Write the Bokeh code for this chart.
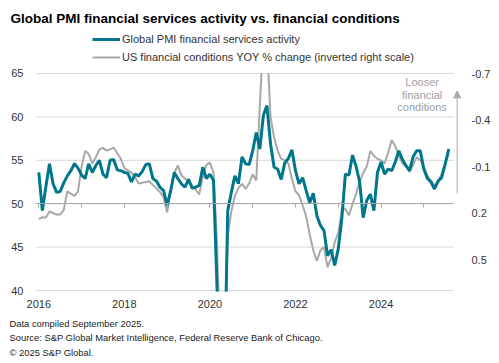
import pandas as pd
from bokeh.plotting import figure
from bokeh.models import (Range1d, LinearAxis, FixedTicker, NumeralTickFormatter,
                          CustomJSTickFormatter, Legend, LegendItem, Label, Arrow,
                          NormalHead, Title, BoxAnnotation)
from bokeh.embed import file_html
from bokeh.resources import INLINE

FONT = "Liberation Sans"

# Monthly dates Jan 2016 .. Aug 2025
months = pd.date_range("2016-01-01", "2025-08-01", freq="MS")

# Global PMI financial services activity index (left axis)
pmi_2016 = [53.6, 49.2, 52.0, 54.6, 52.3, 51.3, 51.4, 52.4, 53.2, 53.8, 54.6, 54.1]
pmi_2017 = [53.3, 52.9, 54.6, 53.6, 54.4, 55.0, 53.4, 53.0, 55.0, 55.1, 53.9, 53.8]
pmi_2018 = [53.6, 53.5, 52.5, 53.4, 53.2, 53.7, 54.5, 54.6, 52.9, 52.6, 51.9, 51.5]
pmi_2019 = [49.8, 51.5, 53.6, 52.9, 52.3, 51.9, 52.8, 51.8, 51.9, 52.1, 54.2, 52.9]
pmi_2020 = [53.4, 52.7, 40.3, 25.0, 28.0, 49.2, 51.3, 53.2, 52.3, 55.4, 54.6, 54.5]
pmi_2021 = [56.1, 58.2, 56.3, 60.2, 61.3, 56.9, 54.2, 54.0, 52.8, 54.7, 55.2, 56.2]
pmi_2022 = [53.8, 52.3, 53.0, 51.5, 50.1, 51.2, 48.6, 47.5, 46.9, 44.0, 44.7, 42.9]
pmi_2023 = [44.8, 48.3, 53.4, 53.3, 55.6, 54.3, 52.5, 48.4, 50.4, 51.1, 49.2, 53.6]
pmi_2024 = [54.8, 53.4, 54.0, 53.8, 54.8, 56.1, 55.1, 54.4, 53.8, 55.4, 56.1, 56.1]
pmi_2025 = [54.0, 52.9, 52.5, 51.7, 52.6, 53.0, 54.6, 56.3]

# US financial conditions, YOY % change (right axis, inverted)
fci_2016 = [0.24, 0.227, 0.229, 0.19, 0.20, 0.21, 0.21, 0.18, 0.06, 0.075, 0.09, 0.06]
fci_2017 = [-0.10, -0.20, -0.18, -0.12, -0.16, -0.21, -0.22, -0.203, -0.21, -0.222, -0.185, -0.15]
fci_2018 = [-0.09, -0.075, -0.06, -0.03, 0.01, 0.005, 0.0, -0.005, 0.02, 0.04, 0.065, 0.098]
fci_2019 = [0.195, 0.05, -0.06, -0.106, -0.045, -0.02, -0.01, 0.023, 0.05, 0.08, -0.03, -0.11]
fci_2020 = [-0.125, -0.06, 0.40, 1.20, 1.10, 0.35, 0.19, 0.09, 0.04, 0.012, 0.044, 0.01]
fci_2021 = [-0.05, -0.01, -0.49, -0.95, -0.90, -0.42, -0.289, -0.20, -0.15, -0.14, -0.12, -0.02]
fci_2022 = [0.06, 0.085, 0.15, 0.22, 0.34, 0.44, 0.51, 0.44, 0.42, 0.55, 0.49, 0.39]
fci_2023 = [0.33, 0.184, 0.173, 0.216, 0.141, 0.076, 0.0, -0.06, -0.10, -0.20, -0.17, -0.15]
fci_2024 = [-0.14, -0.12, -0.19, -0.27, -0.23, -0.17, -0.12, -0.10, -0.065, -0.11, -0.16, -0.14]
fci_2025 = [-0.10, -0.04, -0.01, 0.023, 0.0, -0.05, -0.12, -0.18]

pmi = (pmi_2016 + pmi_2017 + pmi_2018 + pmi_2019 + pmi_2020 + pmi_2021 +
       pmi_2022 + pmi_2023 + pmi_2024 + pmi_2025)
fci = (fci_2016 + fci_2017 + fci_2018 + fci_2019 + fci_2020 + fci_2021 +
       fci_2022 + fci_2023 + fci_2024 + fci_2025)

x = list(months.year + (months.month - 1) / 12.0)

left_ticks = [40, 45, 50, 55, 60, 65]
right_ticks = [-0.7, -0.4, -0.1, 0.2, 0.5]
year_labels = [2016, 2018, 2020, 2022, 2024]
year_ticks = list(range(2016, 2026))

TEAL = "#00768c"
GREY = "#a8a8a8"
TXT = "#333333"

X_LO, X_HI, X_GRID_END = 2015.9229, 2025.9042, 2025.694

p = figure(width=499, height=363, output_backend="svg", toolbar_location=None,
           x_range=Range1d(X_LO, X_HI), y_range=Range1d(39.8848, 69.7235),
           min_border_left=35, min_border_right=37, min_border_top=32,
           min_border_bottom=72)
p.extra_y_ranges = {"fci": Range1d(start=0.70645, end=-0.96452)}
p.outline_line_color = None
p.background_fill_color = "white"
p.border_fill_color = "white"

p.xgrid.visible = False
p.ygrid.visible = False
# horizontal grid lines (left-axis ticks), ending before the arrow
p.segment(x0=[X_LO] * len(left_ticks), x1=[X_GRID_END] * len(left_ticks),
          y0=left_ticks, y1=left_ticks, line_color="#d9d9d9", line_width=1,
          level="underlay")

# bottom axis (labels only)
xa = p.xaxis[0]
xa.ticker = FixedTicker(ticks=year_labels)
xa.formatter = NumeralTickFormatter(format="0")
xa.axis_line_color = None
xa.major_tick_line_color = None
xa.minor_tick_line_color = None
xa.major_label_standoff = 2
xa.major_label_text_font = FONT
xa.major_label_text_font_size = "11px"
xa.major_label_text_color = TXT

# axis line with yearly ticks at 50
x50 = LinearAxis(fixed_location=50, ticker=FixedTicker(ticks=year_ticks),
                 formatter=CustomJSTickFormatter(code="return ''"),
                 bounds=(X_LO, X_GRID_END),
                 axis_line_color="#a6a6a6", major_tick_line_color="#a6a6a6",
                 major_tick_out=4, major_tick_in=0, minor_tick_line_color=None,
                 major_label_standoff=0, major_label_text_font_size="1px")
p.add_layout(x50, "below")

# left axis
ya = p.yaxis[0]
ya.ticker = FixedTicker(ticks=left_ticks)
ya.axis_line_color = None
ya.major_tick_line_color = None
ya.minor_tick_line_color = None
ya.major_label_standoff = 6
ya.major_label_text_font = FONT
ya.major_label_text_font_size = "11px"
ya.major_label_text_color = TXT

# right axis (inverted)
ra = LinearAxis(y_range_name="fci", ticker=FixedTicker(ticks=right_ticks),
                formatter=NumeralTickFormatter(format="0.0"),
                axis_line_color=None, major_tick_line_color=None,
                minor_tick_line_color=None, major_label_standoff=3,
                major_label_text_font=FONT, major_label_text_font_size="11px",
                major_label_text_color=TXT)
p.add_layout(ra, "right")

r_fci = p.line(x, fci, y_range_name="fci", line_color=GREY, line_width=2)
r_pmi = p.line(x, pmi, line_color=TEAL, line_width=3)

# white mask above the top of the value scale (plot area ends at 65)
p.add_layout(BoxAnnotation(bottom=65.07, fill_color="white", fill_alpha=1.0,
                           line_alpha=0))

legend = Legend(items=[
    LegendItem(label="Global PMI financial services activity", renderers=[r_pmi]),
    LegendItem(label="US financial conditions YOY % change (inverted right scale)", renderers=[r_fci]),
], location=(57, 227), orientation="vertical", background_fill_alpha=0,
    border_line_color=None, padding=0, margin=0, spacing=4, glyph_width=28,
    glyph_height=14, label_height=14, label_standoff=2,
    label_text_font=FONT, label_text_font_size="11px", label_text_color=TXT)
p.add_layout(legend)

# "Looser financial conditions" annotation
p.add_layout(Label(x=2024.96, y=62.55, text="Looser\nfinancial\nconditions",
                   text_align="center", text_baseline="middle", text_font=FONT,
                   text_font_size="11px", text_color="#a0a0a0", text_line_height=1.05))
p.add_layout(Arrow(x_start=2025.78, y_start=51.2, x_end=2025.78, y_end=63.0,
                   line_color="#aaaaaa", line_width=1,
                   end=NormalHead(size=7, fill_color="#aaaaaa", line_color="#aaaaaa")))

# title
p.title.text = "Global PMI financial services activity vs. financial conditions"
p.title.align = "left"
p.title.offset = -25
p.title.standoff = 14
p.title.text_font = FONT
p.title.text_font_size = "13.5px"
p.title.text_font_style = "bold"
p.title.text_color = "#000000"

# footnotes
notes = ("Data compiled September 2025.\n"
         "Source: S&P Global Market Intelligence, Federal Reserve Bank of Chicago.\n"
         "\u00a9 2025 S&P Global.")
p.add_layout(Title(text=notes, align="left", offset=-26, standoff=11.5, text_font=FONT,
                   text_font_size="9.4px", text_font_style="normal",
                   text_line_height=1.3, text_color="#222222"), "below")

open("out.html", "w").write(file_html(p, INLINE))
